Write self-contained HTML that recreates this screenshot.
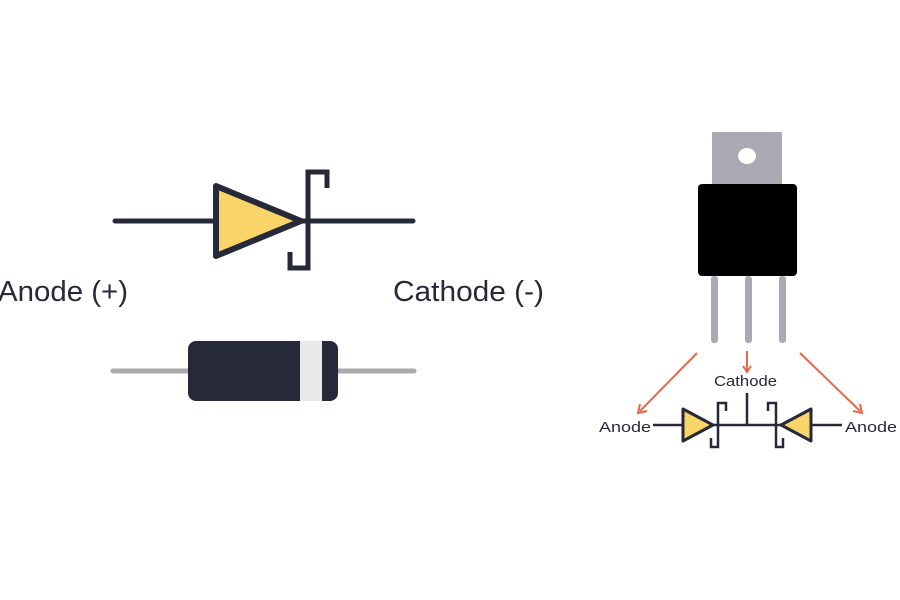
<!DOCTYPE html>
<html><head><style>
body{margin:0;background:#fff;width:900px;height:600px;overflow:hidden}
svg{display:block}
</style></head><body>
<svg width="900" height="600" viewBox="0 0 900 600" xmlns="http://www.w3.org/2000/svg">
<defs>
<g id="sd">
<polygon points="683,409 713,425 683,441" fill="#f9d468" stroke="#262a38" stroke-width="3" stroke-linejoin="round"/>
<polyline points="726,411 726,403 718,403 718,447 711,447 711,438" fill="none" stroke="#262a38" stroke-width="2.5"/>
</g>
</defs>
<line x1="115" y1="221" x2="413" y2="221" stroke="#262a38" stroke-width="5" stroke-linecap="round"/>
<polygon points="216,186 301,221 216,256" fill="#f9d468" stroke="#262a38" stroke-width="6" stroke-linejoin="round"/>
<polyline points="327,188 327,172 308,172 308,268 290,268 290,252" fill="none" stroke="#262a38" stroke-width="5"/>
<text x="-2" y="301" textLength="130" lengthAdjust="spacingAndGlyphs" font-family="Liberation Sans, sans-serif" font-size="29" fill="#262a38">Anode (+)</text>
<text x="393" y="301" textLength="151" lengthAdjust="spacingAndGlyphs" font-family="Liberation Sans, sans-serif" font-size="29" fill="#262a38">Cathode (-)</text>
<line x1="113" y1="371" x2="414" y2="371" stroke="#a9abb0" stroke-width="5" stroke-linecap="round"/>
<rect x="188" y="341" width="150" height="60" rx="8" fill="#262a38"/>
<rect x="300" y="341" width="22" height="60" fill="#e8e8ea"/>
<rect x="712" y="132" width="70" height="60" fill="#a9aab3"/>
<ellipse cx="747" cy="156" rx="9" ry="8" fill="#fff"/>
<rect x="698" y="184" width="99" height="92" rx="4" fill="#000"/>
<rect x="711" y="276" width="7" height="67" rx="3" fill="#a9aab3"/>
<rect x="745" y="276" width="7" height="67" rx="3" fill="#a9aab3"/>
<rect x="779" y="276" width="7" height="67" rx="3" fill="#a9aab3"/>
<g stroke="#e66a4a" stroke-width="2" fill="none">
<line x1="697" y1="353" x2="640" y2="411"/>
<polyline points="640,404 638,413 647,411"/>
<line x1="747" y1="351" x2="747" y2="371"/>
<polyline points="743,366 747,372 751,366"/>
<line x1="800" y1="353" x2="860" y2="411"/>
<polyline points="853,411 862,413 860,404"/>
</g>
<text x="714" y="386" textLength="63" lengthAdjust="spacingAndGlyphs" font-family="Liberation Sans, sans-serif" font-size="15" fill="#262a38">Cathode</text>
<text x="599" y="432" textLength="52" lengthAdjust="spacingAndGlyphs" font-family="Liberation Sans, sans-serif" font-size="15" fill="#262a38">Anode</text>
<text x="845" y="432" textLength="52" lengthAdjust="spacingAndGlyphs" font-family="Liberation Sans, sans-serif" font-size="15" fill="#262a38">Anode</text>
<line x1="653" y1="425" x2="842" y2="425" stroke="#262a38" stroke-width="2.5"/>
<line x1="747" y1="393" x2="747" y2="425" stroke="#262a38" stroke-width="2.5"/>
<use href="#sd"/>
<use href="#sd" transform="translate(1494,0) scale(-1,1)"/>
</svg>
</body></html>
